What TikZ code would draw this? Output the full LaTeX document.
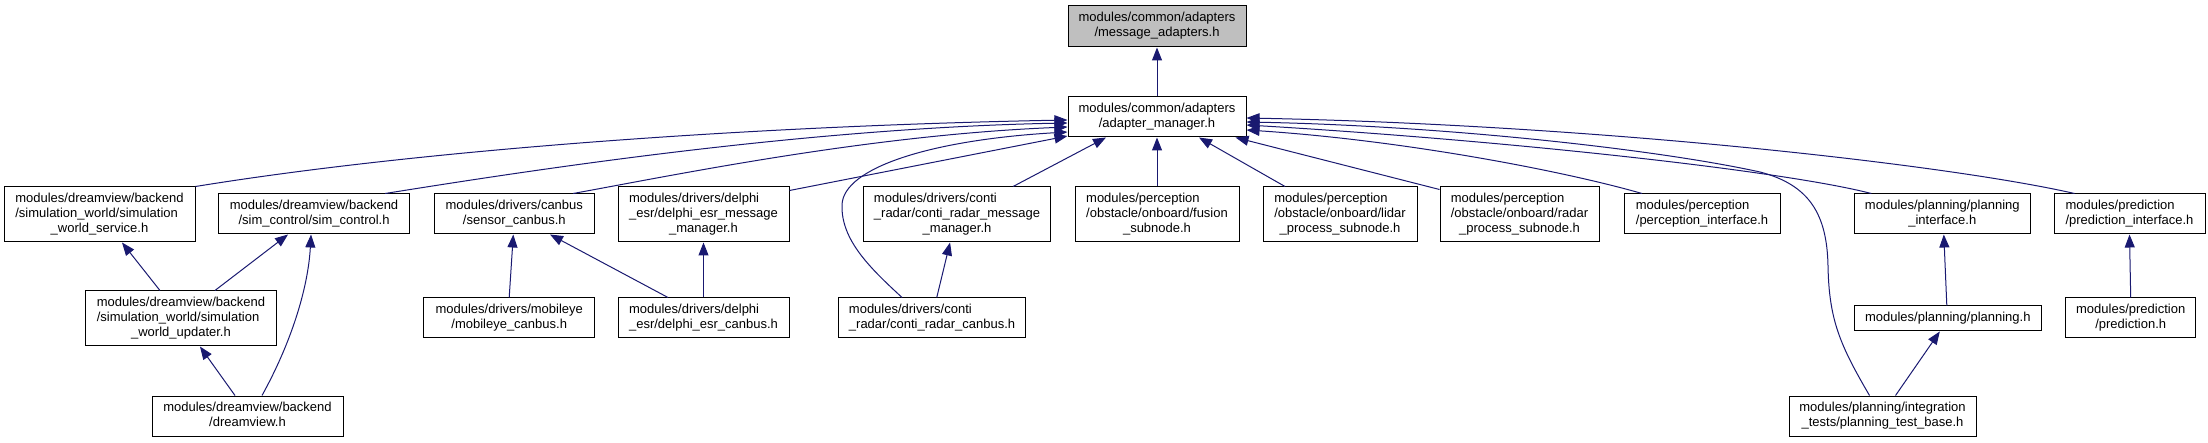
\documentclass[tikz,border=0pt]{standalone}
\usepackage{fontspec}
\setmainfont{Liberation Sans}
\usetikzlibrary{arrows.meta,calc}
\definecolor{edgec}{HTML}{191970}
\definecolor{rootfill}{HTML}{BFBFBF}
\tikzset{
  box/.style={draw=black, line width=1pt, fill=white, inner sep=0pt, font=\fontsize{13}{15}\selectfont},
  edge/.style={draw=edgec, line width=1pt, -{Triangle[length=13pt,width=10pt]}},
}
\newcommand\ftext[2]{\begin{tabular}{@{}l@{}}#1\multicolumn{1}{@{}c@{}}{#2}\end{tabular}}
\newcommand\mkbox[8][]{\node[box,#1, minimum width={#4pt-#3pt}, minimum height={#6pt-#5pt}] (#2) at ({(#3+#4)/2},{(#5+#6)/2}) {\ftext{#7}{#8}};}
\begin{document}
\begin{tikzpicture}[x=1pt,y=-1pt]
\useasboundingbox (0,0) rectangle (2208,443);
% nodes
\mkbox[fill=rootfill]{ma}{1068}{1246}{6}{47}{modules/common/adapters\\}{/message\_adapters.h}
\mkbox{am}{1068}{1246}{97}{137}{modules/common/adapters\\}{/adapter\_manager.h}
\mkbox{sws}{4}{195}{187}{242}{modules/dreamview/backend\\/simulation\_world/simulation\\}{\_world\_service.h}
\mkbox{simctl}{218.5}{409.6}{194}{234}{modules/dreamview/backend\\}{/sim\_control/sim\_control.h}
\mkbox{sensor}{434}{594.6}{194}{234}{modules/drivers/canbus\\}{/sensor\_canbus.h}
\mkbox{dmm}{618}{789}{187}{242}{modules/drivers/delphi\\\_esr/delphi\_esr\_message\\}{\_manager.h}
\mkbox{cmm}{863.6}{1050.5}{187}{242}{modules/drivers/conti\\\_radar/conti\_radar\_message\\}{\_manager.h}
\mkbox{fusion}{1075}{1239}{187}{242}{modules/perception\\/obstacle/onboard/fusion\\}{\_subnode.h}
\mkbox{lidar}{1263}{1417}{187}{242}{modules/perception\\/obstacle/onboard/lidar\\}{\_process\_subnode.h}
\mkbox{radar}{1440}{1599}{187}{242}{modules/perception\\/obstacle/onboard/radar\\}{\_process\_subnode.h}
\mkbox{perc}{1624}{1780}{194}{234}{modules/perception\\}{/perception\_interface.h}
\mkbox{plint}{1854.6}{2030}{194}{234}{modules/planning/planning\\}{\_interface.h}
\mkbox{predint}{2054}{2205}{194}{234}{modules/prediction\\}{/prediction\_interface.h}
\mkbox{updater}{85.4}{276.5}{291}{346}{modules/dreamview/backend\\/simulation\_world/simulation\\}{\_world\_updater.h}
\mkbox{mobileye}{423.8}{594.6}{298}{338}{modules/drivers/mobileye\\}{/mobileye\_canbus.h}
\mkbox{dcanbus}{618}{789}{298}{338}{modules/drivers/delphi\\}{\_esr/delphi\_esr\_canbus.h}
\mkbox{ccanbus}{838.6}{1025.5}{298}{338}{modules/drivers/conti\\}{\_radar/conti\_radar\_canbus.h}
\mkbox{planning}{1854.6}{2041}{306}{331}{}{modules/planning/planning.h}
\mkbox{predh}{2065.6}{2195.8}{298}{338}{modules/prediction\\}{/prediction.h}
\mkbox{dview}{152}{343}{396}{436}{modules/dreamview/backend\\}{/dreamview.h}
\mkbox{tbase}{1789}{1976}{396}{436}{modules/planning/integration\\}{\_tests/planning\_test\_base.h}
% edges
\draw[edge] (am.north) -- (ma.south);
\draw[edge] (sws.north east) .. controls (420,150) and (750,126) .. ($(am.west)+(0,3)$);
\draw[edge] ($(simctl.north east)+(-25,0)$) .. controls (520,172) and (800,128) .. ($(am.west)+(0,6)$);
\draw[edge] ($(sensor.north east)+(-22,0)$) .. controls (680,174) and (870,135) .. ($(am.west)+(0,10)$);
\draw[edge] ($(dmm.north east)+(0,4)$) -- ($(am.west)+(0,19)$);
\draw[edge] ($(ccanbus.north)+(-30,0)$) .. controls (870,268) and (841,240) .. (842,205) .. controls (843,168) and (930,140) .. ($(am.west)+(0,15)$);
\draw[edge] ($(cmm.north)+(56,0)$) -- ($(am.south)+(-51,0)$);
\draw[edge] (fusion.north) -- (am.south);
\draw[edge] ($(lidar.north)+(-55,0)$) -- ($(am.south)+(42,0)$);
\draw[edge] ($(radar.north west)+(0,3)$) -- ($(am.south east)+(-11,0)$);
\draw[edge] ($(perc.north)+(-60,0)$) .. controls (1560,170) and (1400,140) .. ($(am.east)+(0,13)$);
\draw[edge] ($(plint.north)+(-71,0)$) .. controls (1780,170) and (1500,140) .. ($(am.east)+(0,8)$);
\draw[edge] ($(predint.north)+(-55,0)$) .. controls (1950,165) and (1600,125) .. ($(am.east)+(0,1)$);
\draw[edge] ($(tbase.north)+(-13,0)$) .. controls (1840,345) and (1829,320) .. (1828,266) .. controls (1827,215) and (1810,185) .. (1760,172) .. controls (1660,150) and (1450,126) .. ($(am.east)+(0,5)$);
\draw[edge] ($(updater.north)+(-21,0)$) -- ($(sws.south)+(22.5,0)$);
\draw[edge] ($(updater.north)+(34,0)$) -- ($(simctl.south)+(-26,0)$);
\draw[edge] ($(dview.north)+(-12.5,0)$) -- ($(updater.south)+(19,0)$);
\draw[edge] ($(dview.north)+(14.5,0)$) .. controls (290,345) and (308,290) .. ($(simctl.south)+(-3,0)$);
\draw[edge] (mobileye.north) -- ($(sensor.south)+(-1,0)$);
\draw[edge] ($(dcanbus.north)+(-35.5,0)$) -- ($(sensor.south)+(35.7,0)$);
\draw[edge] (dcanbus.north) -- (dmm.south);
\draw[edge] ($(ccanbus.north)+(4.7,0)$) -- ($(cmm.south)+(-7,0)$);
\draw[edge] ($(planning.north)+(-1,0)$) -- ($(plint.south)+(1.5,0)$);
\draw[edge] ($(tbase.north)+(13,0)$) -- ($(planning.south)+(-8,0)$);
\draw[edge] (predh.north) -- (predint.south);
\end{tikzpicture}
\end{document}
